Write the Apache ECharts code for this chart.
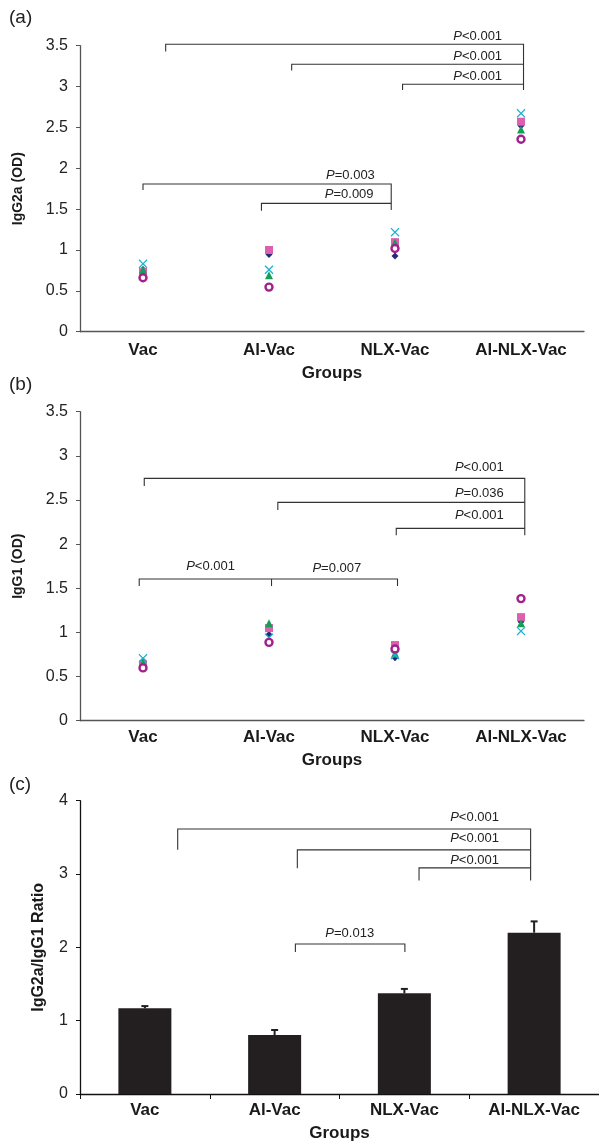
<!DOCTYPE html>
<html><head><meta charset="utf-8">
<script src="https://cdn.jsdelivr.net/npm/echarts@6/dist/echarts.min.js"></script>
<style>html,body{margin:0;padding:0;background:#fff}#c{width:599px;height:1143px}</style>
</head><body><div id="c"></div>
<script>
const categories = ['Vac', 'Al-Vac', 'NLX-Vac', 'Al-NLX-Vac'];
// IgG2a (OD), one array per mouse marker
const igg2aDiamond  = [0.76, 0.945, 0.925, 2.52];
const igg2aSquare   = [0.733, 1.0, 1.096, 2.57];
const igg2aTriangle = [0.758, 0.692, 1.09, 2.476];
const igg2aCross    = [0.831, 0.758, 1.218, 2.673];
const igg2aCircle   = [0.66, 0.546, 1.018, 2.355];
// IgG1 (OD)
const igg1Diamond  = [0.68, 0.977, 0.714, 1.12];
const igg1Square   = [0.639, 1.049, 0.857, 1.173];
const igg1Triangle = [0.66, 1.105, 0.76, 1.105];
const igg1Cross    = [0.707, 0.94, 0.744, 1.015];
const igg1Circle   = [0.598, 0.887, 0.812, 1.383];
// IgG2a/IgG1 ratio, mean and SE
const ratioMean = [1.169, 0.805, 1.374, 2.2];
const ratioSE   = [0.03, 0.068, 0.059, 0.154];
// y ticks
const ticksAB = [0, 3.5, 0.5];
const ticksC = [0, 4, 1];
// significance brackets (category index, value)
const bracketsA = [
  [[0.18, 3.43], [0.18, 3.518], [3.02, 3.518], [3.02, 2.958]],
  [[1.18, 3.195], [1.18, 3.273], [3.02, 3.273]],
  [[2.06, 2.958], [2.06, 3.028], [3.02, 3.028]],
  [[0, 1.734], [0, 1.808], [1.97, 1.808], [1.97, 1.49]],
  [[0.94, 1.48], [0.94, 1.571], [1.97, 1.571]]
];
const labelsA = [
  [2.85, 3.611, '<0.001', 'right'], [2.85, 3.366, '<0.001', 'right'], [2.85, 3.13, '<0.001', 'right'],
  [1.84, 1.918, '=0.003', 'right'], [1.83, 1.684, '=0.009', 'right']
];
const bracketsB = [
  [[0.01, 2.658], [0.01, 2.745], [3.03, 2.745], [3.03, 2.1]],
  [[1.07, 2.386], [1.07, 2.473], [3.03, 2.473]],
  [[2.01, 2.1], [2.01, 2.179], [3.03, 2.179]],
  [[-0.03, 1.525], [-0.03, 1.605], [2.02, 1.605], [2.02, 1.525]],
  [[1.02, 1.525], [1.02, 1.605]]
];
const labelsB = [
  [2.863, 2.865, '<0.001', 'right'], [2.863, 2.575, '=0.036', 'right'], [2.863, 2.322, '<0.001', 'right'],
  [0.536, 1.752, '<0.001', 'center'], [1.538, 1.729, '=0.007', 'center']
];
const bracketsC = [
  [[0.253, 3.33], [0.253, 3.615], [2.973, 3.615], [2.973, 2.91]],
  [[1.175, 3.08], [1.175, 3.33], [2.973, 3.33]],
  [[2.113, 2.91], [2.113, 3.084], [2.973, 3.084]],
  [[1.16, 1.937], [1.16, 2.045], [2.004, 2.045], [2.004, 1.937]]
];
const labelsC = [
  [2.729, 3.775, '<0.001', 'right'], [2.729, 3.49, '<0.001', 'right'], [2.729, 3.19, '<0.001', 'right'],
  [1.579, 2.196, '=0.013', 'center']
];

const FONT = 'Liberation Sans, Arial, Helvetica, sans-serif';
const chart = echarts.init(document.getElementById('c'), null, {renderer: 'canvas'});

const grids = [
  {left: 80, top: 45.7, width: 504, height: 286},
  {left: 80, top: 411.7, width: 504, height: 309},
  {left: 80, top: 800.7, width: 524, height: 293.3}
];

function catAxis(gi, color, withTicks, nameGap, labelMargin) {
  return {
    type: 'category', gridIndex: gi, data: categories, boundaryGap: true,
    axisLine: {onZero: false, lineStyle: {color: color, width: 1.3}},
    axisTick: {show: withTicks, length: 5, alignWithLabel: false, lineStyle: {color: color}},
    axisLabel: {color: '#1a1a1a', fontFamily: FONT, fontWeight: 'bold', fontSize: 17, margin: labelMargin, interval: 0},
    name: 'Groups', nameLocation: 'middle', nameGap: nameGap,
    nameTextStyle: {color: '#1a1a1a', fontFamily: FONT, fontWeight: 'bold', fontSize: 17},
    splitLine: {show: false}
  };
}
function hiddenX(gi) {
  return {type: 'value', gridIndex: gi, min: -0.5, max: 3.5, show: false, splitLine: {show: false}};
}
function valAxis(gi, ticks, name, nameGap, nameSize, color) {
  return {
    type: 'value', gridIndex: gi, min: ticks[0], max: ticks[1], interval: ticks[2],
    axisLine: {show: true, onZero: false, lineStyle: {color: color, width: 1.3}},
    axisTick: {show: true, length: 4, lineStyle: {color: color}},
    axisLabel: {color: '#222', fontFamily: FONT, fontSize: 16, margin: 12},
    splitLine: {show: false},
    name: name, nameLocation: 'middle', nameGap: nameGap, nameRotate: 90,
    nameTextStyle: {color: '#1a1a1a', fontFamily: FONT, fontWeight: 'bold', fontSize: nameSize}
  };
}

const markers = [
  {name: 'Mouse 1', symbol: 'diamond', size: 7, color: '#27297a'},
  {name: 'Mouse 2', symbol: 'rect', size: 8, color: '#dd5fae'},
  {name: 'Mouse 3', symbol: 'triangle', size: 8, color: '#159e58'},
  {name: 'Mouse 4', symbol: 'path://M1,0L5,4L9,0L10,1L6,5L10,9L9,10L5,6L1,10L0,9L4,5L0,1Z', size: 9, color: '#1bb3d3'},
  {name: 'Mouse 5', symbol: 'circle', size: 7, color: '#a0218c', ring: true}
];
const setA = [igg2aDiamond, igg2aSquare, igg2aTriangle, igg2aCross, igg2aCircle];
const setB = [igg1Diamond, igg1Square, igg1Triangle, igg1Cross, igg1Circle];

function scatterSeries(values, m, xi, yi) {
  const s = {
    type: 'scatter', name: m.name, xAxisIndex: xi, yAxisIndex: yi,
    data: values.map((v, i) => [i, v]), symbol: m.symbol, symbolSize: m.size,
    itemStyle: {color: m.color, opacity: 1}, silent: true, z: 4
  };
  if (m.ring) {
    s.itemStyle = {color: '#ffffff', borderColor: m.color, borderWidth: 2.4, opacity: 1};
  }
  return s;
}

function bracketSeries(brs, xi, yi) {
  return {
    type: 'custom', xAxisIndex: xi, yAxisIndex: yi, silent: true, clip: false, z: 3,
    data: brs.map(b => b[0]),
    renderItem: function (params, api) {
      const pts = brs[params.dataIndex].map(p => api.coord(p));
      return {type: 'polyline', shape: {points: pts}, style: {stroke: '#333', lineWidth: 1.1, fill: null}};
    }
  };
}
function labelSeries(lbls, xi, yi) {
  return {
    type: 'custom', xAxisIndex: xi, yAxisIndex: yi, silent: true, clip: false, z: 5,
    data: lbls.map(l => [l[0], l[1]]),
    renderItem: function (params, api) {
      const l = lbls[params.dataIndex];
      const p = api.coord([l[0], l[1]]);
      return {
        type: 'text', x: p[0], y: p[1],
        style: {
          text: '{i|P}{n|' + l[2] + '}',
          rich: {
            i: {fontStyle: 'italic', fontSize: 13, fontFamily: FONT, fill: '#222'},
            n: {fontSize: 13, fontFamily: FONT, fill: '#222'}
          },
          align: l[3], verticalAlign: 'middle'
        }
      };
    }
  };
}

const series = [];
markers.forEach((m, k) => series.push(scatterSeries(setA[k], m, 0, 0)));
markers.forEach((m, k) => series.push(scatterSeries(setB[k], m, 2, 1)));
series.push({
  type: 'bar', xAxisIndex: 4, yAxisIndex: 2, data: ratioMean, barWidth: 53,
  itemStyle: {color: '#231f20'}, silent: true, z: 2
});
series.push({
  type: 'custom', xAxisIndex: 4, yAxisIndex: 2, silent: true, clip: false, z: 3,
  data: ratioMean.map((v, i) => [i, v + ratioSE[i], v]),
  renderItem: function (params, api) {
    const top = api.coord([api.value(0), api.value(1)]);
    const base = api.coord([api.value(0), api.value(2)]);
    return {type: 'group', children: [
      {type: 'line', shape: {x1: top[0], y1: top[1], x2: base[0], y2: base[1]}, style: {stroke: '#231f20', lineWidth: 2}},
      {type: 'line', shape: {x1: top[0] - 3.5, y1: top[1], x2: top[0] + 3.5, y2: top[1]}, style: {stroke: '#231f20', lineWidth: 2}}
    ]};
  }
});
series.push(bracketSeries(bracketsA, 1, 0));
series.push(labelSeries(labelsA, 1, 0));
series.push(bracketSeries(bracketsB, 3, 1));
series.push(labelSeries(labelsB, 3, 1));
series.push(bracketSeries(bracketsC, 5, 2));
series.push(labelSeries(labelsC, 5, 2));

chart.setOption({
  animation: false,
  backgroundColor: '#fff',
  grid: grids,
  xAxis: [
    catAxis(0, '#555', false, 33, 10), hiddenX(0),
    catAxis(1, '#555', false, 31, 8), hiddenX(1),
    catAxis(2, '#111', true, 31, 8), hiddenX(2)
  ],
  yAxis: [
    valAxis(0, ticksAB, 'IgG2a (OD)', 55, 14, '#555'),
    valAxis(1, ticksAB, 'IgG1 (OD)', 55, 14, '#555'),
    valAxis(2, ticksC, 'IgG2a/IgG1 Ratio', 33, 16, '#111')
  ],
  graphic: [
    {type: 'text', left: 9, top: 8, style: {text: '(a)', fontSize: 19, fontFamily: FONT, fill: '#222'}},
    {type: 'text', left: 9, top: 375, style: {text: '(b)', fontSize: 19, fontFamily: FONT, fill: '#222'}},
    {type: 'text', left: 9, top: 775, style: {text: '(c)', fontSize: 19, fontFamily: FONT, fill: '#222'}}
  ],
  series: series
});
</script>
</body></html>
